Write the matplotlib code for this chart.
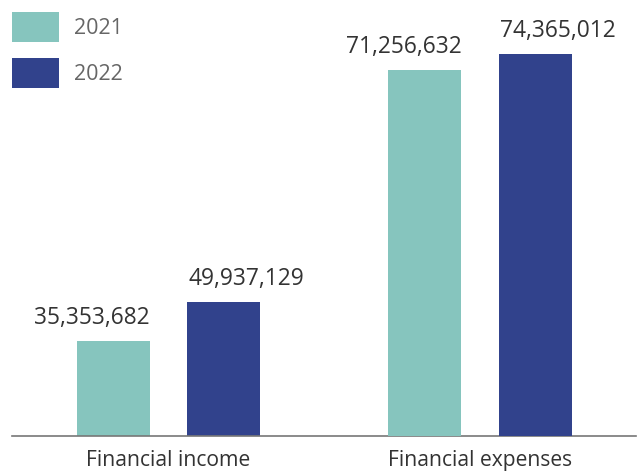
import numpy as np
import matplotlib.pyplot as plt

categories = ["Financial income", "Financial expenses"]
years = ["2021", "2022"]
values_2021 = [35353682, 71256632]
values_2022 = [49937129, 74365012]

colors = ["#86C5BE", "#31428C"]

plt.rcParams['font.family'] = ['Open Sans', 'DejaVu Sans']

fig = plt.figure(figsize=(6.4, 4.73), dpi=100)
ax = fig.add_axes([12 / 640, 37 / 473, 624 / 640, 436 / 473])
# the reference draws each group on its own vertical scale
ax2 = ax.twinx()

x = np.arange(len(categories))
off = 0.177
w = 0.235

handles = []
for i, (axis, lim) in enumerate([(ax, 162.4e6), (ax2, 84.9e6)]):
    for j, vals in enumerate([values_2021, values_2022]):
        xc = x[i] + (j * 2 - 1) * off
        b = axis.bar(xc, vals[i], width=w, color=colors[j], label=years[j])
        # 2021 label hangs left from the bar's right edge, 2022 starts at left edge
        if j == 0:
            axis.annotate(f"{vals[i]:,}", (xc + w / 2, vals[i]), xytext=(0, 8),
                          textcoords="offset points", ha="right", va="bottom",
                          fontsize=16.4, color="#333333")
        else:
            axis.annotate(f"{vals[i]:,}", (xc - w / 2, vals[i]), xytext=(1, 8),
                          textcoords="offset points", ha="left", va="bottom",
                          fontsize=16.4, color="#333333")
        if i == 0:
            handles.append(b)
    axis.set_ylim(0, lim)

ax.set_xlim(-0.5024, 1.5008)
for s in ["top", "left", "right"]:
    ax.spines[s].set_visible(False)
    ax2.spines[s].set_visible(False)
ax2.spines["bottom"].set_visible(False)
ax.spines["bottom"].set_color("#777777")
ax.spines["bottom"].set_linewidth(1.2)
ax.set_yticks([])
ax2.set_yticks([])
ax.set_xticks(x)
ax.set_xticklabels(categories, fontsize=15.2, color="#333333")
ax.tick_params(axis="x", length=0, pad=10)

leg = fig.legend(handles=handles, labels=years, loc="upper left",
                 bbox_to_anchor=(12 / 640, 1 - 12 / 473), frameon=False,
                 borderpad=0, borderaxespad=0, fontsize=15.5,
                 handlelength=2.2, handleheight=1.74, handletextpad=0.7,
                 labelspacing=0.78)
for t in leg.get_texts():
    t.set_color("#666666")

fig.savefig("out.png", dpi=100)
